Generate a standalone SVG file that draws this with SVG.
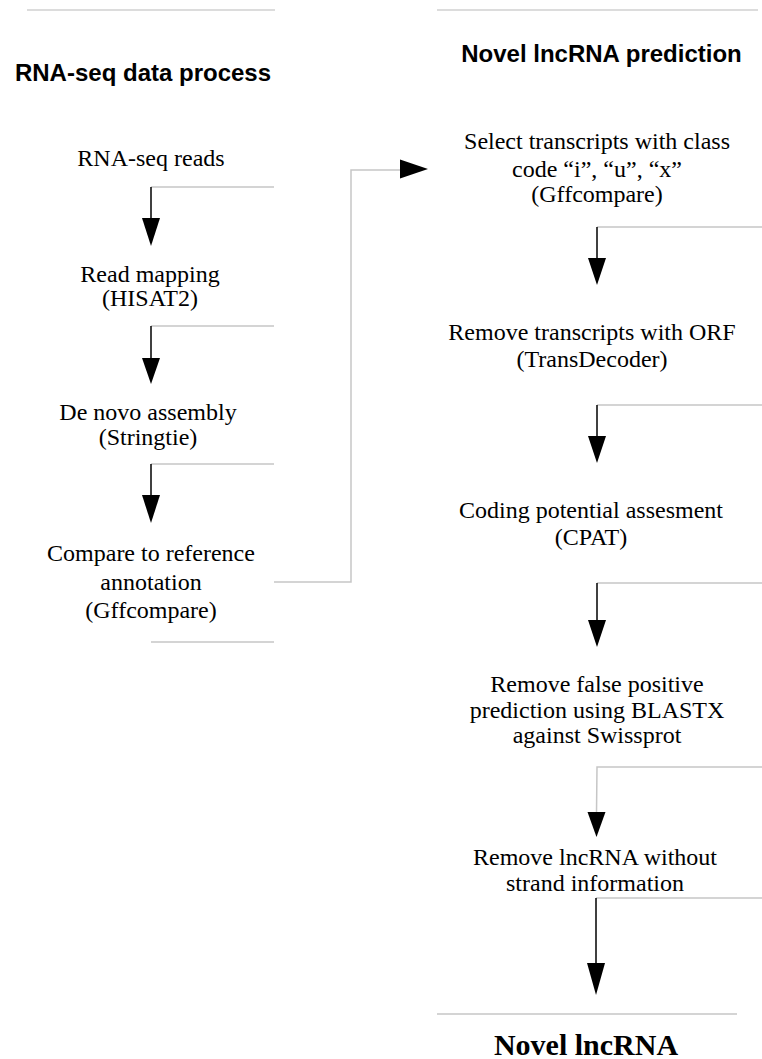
<svg xmlns="http://www.w3.org/2000/svg" width="762" height="1059" viewBox="0 0 762 1059">
<style>
.t{font-family:"Liberation Serif","Times New Roman",serif;font-size:24px;fill:#000;text-anchor:middle}
.h{font-family:"Liberation Sans",Arial,sans-serif;font-size:24px;font-weight:bold;fill:#000;text-anchor:middle}
.big{font-family:"Liberation Serif","Times New Roman",serif;font-size:30px;font-weight:bold;fill:#000;text-anchor:middle}
.g{stroke:#c6c6c6;stroke-width:1.5;fill:none}
.gt{stroke:#dcdcdc;stroke-width:2;fill:none}
.k{stroke:#000;stroke-width:1.5;fill:none}
.ah{fill:#000;stroke:none}
</style>
<rect width="762" height="1059" fill="#fff"/>
<g id="separators">
<line class="gt" x1="27" y1="10" x2="275" y2="10"/>
<line class="gt" x1="437" y1="10" x2="758" y2="10"/>
<line class="g" x1="151" y1="642" x2="274" y2="642"/>
<line class="g" x1="437" y1="1014" x2="737" y2="1014"/>
</g>
<g id="header-left"><text class="h" x="143" y="81">RNA-seq data process</text></g>
<g id="header-right"><text class="h" x="601.5" y="61.5">Novel lncRNA prediction</text></g>
<g id="n1"><text class="t" x="151" y="166">RNA-seq reads</text></g>
<g id="n2"><text class="t" x="150" y="282">Read mapping</text><text class="t" x="150" y="306">(HISAT2)</text></g>
<g id="n3"><text class="t" x="148" y="420">De novo assembly</text><text class="t" x="148" y="445">(Stringtie)</text></g>
<g id="n4"><text class="t" x="151" y="561">Compare to reference</text><text class="t" x="151" y="590">annotation</text><text class="t" x="151" y="618">(Gffcompare)</text></g>
<g id="r1"><text class="t" x="597" y="149">Select transcripts with class</text><text class="t" x="597" y="177">code “i”, “u”, “x”</text><text class="t" x="597" y="202">(Gffcompare)</text></g>
<g id="r2"><text class="t" x="592" y="340">Remove transcripts with ORF</text><text class="t" x="592" y="367">(TransDecoder)</text></g>
<g id="r3"><text class="t" x="591" y="518">Coding potential assesment</text><text class="t" x="591" y="545">(CPAT)</text></g>
<g id="r4"><text class="t" x="597" y="692">Remove false positive</text><text class="t" x="597" y="718">prediction using BLASTX</text><text class="t" x="597" y="743">against Swissprot</text></g>
<g id="r5"><text class="t" x="595" y="865">Remove lncRNA without</text><text class="t" x="595" y="891">strand information</text></g>
<g id="result"><text class="big" x="586" y="1055">Novel lncRNA</text></g>
<g id="connectors">
<polyline class="g" points="274,187 151,187"/>
<line class="k" x1="151" y1="187" x2="151" y2="219"/>
<polygon class="ah" points="142,218 160,218 151,246"/>
<polyline class="g" points="274,326 151,326"/>
<line class="k" x1="151" y1="326" x2="151" y2="359"/>
<polygon class="ah" points="142,358 160,358 151,384"/>
<polyline class="g" points="274,464 151,464"/>
<line class="k" x1="151" y1="464" x2="151" y2="496"/>
<polygon class="ah" points="142,495 160,495 151,523"/>
<polyline class="g" points="274,582 351,582 351,170 401,170"/>
<polygon class="ah" points="400,159.5 400,178.5 428,169"/>
<polyline class="g" points="762,227 597,227"/>
<line class="k" x1="597" y1="227" x2="597" y2="259"/>
<polygon class="ah" points="588,258 606,258 597,285"/>
<polyline class="g" points="762,405 597,405"/>
<line class="k" x1="597" y1="405" x2="597" y2="437"/>
<polygon class="ah" points="588,436 606,436 597,463"/>
<polyline class="g" points="762,583 597,583"/>
<line class="k" x1="597" y1="583" x2="597" y2="621"/>
<polygon class="ah" points="588,620 606,620 597,647"/>
<polyline class="g" points="762,767 597,767 596.5,813"/>
<polygon class="ah" points="587.5,812 605.5,812 596.5,837"/>
<polyline class="g" points="762,898 596,898"/>
<line class="k" x1="596" y1="898" x2="596" y2="964"/>
<polygon class="ah" points="587,963 605,963 596,995"/>
</g>
</svg>
